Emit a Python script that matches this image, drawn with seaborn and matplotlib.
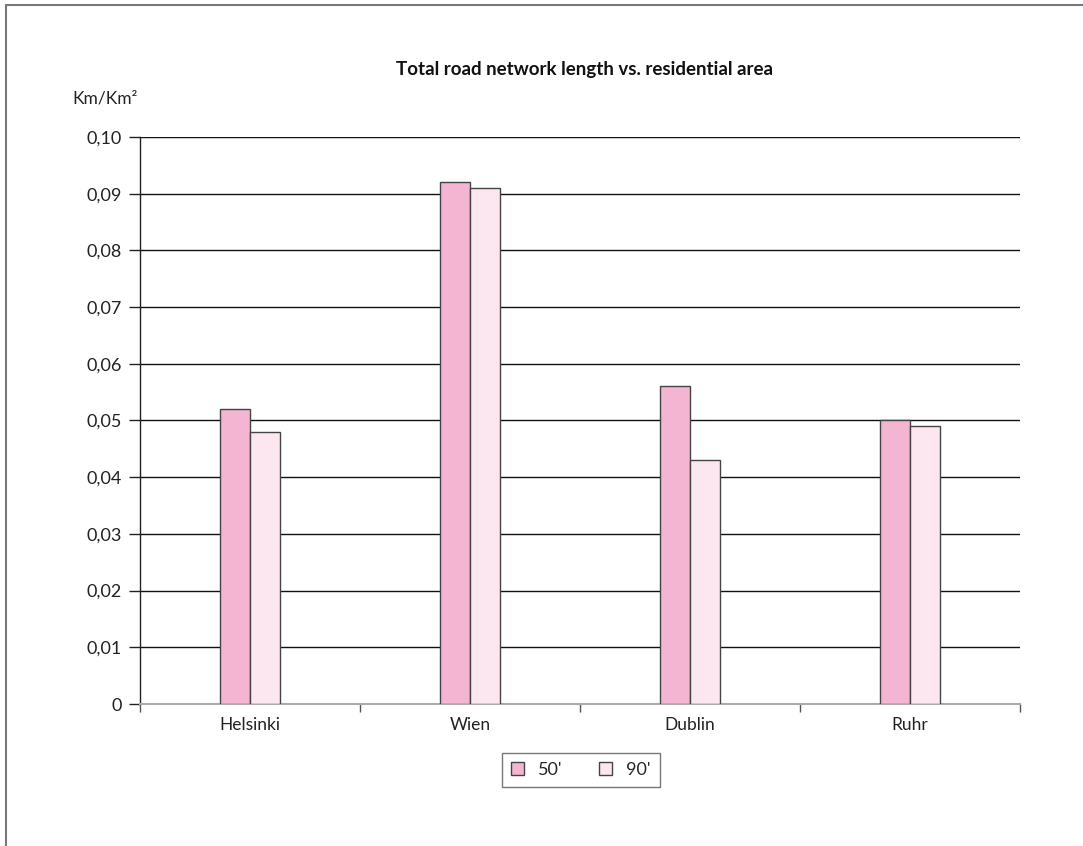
import matplotlib
matplotlib.use("Agg")
import matplotlib.pyplot as plt
import matplotlib.lines as mlines
import matplotlib.patches as mpatches
import pandas as pd
import seaborn as sns

cities = ["Helsinki", "Wien", "Dublin", "Ruhr"]
periods = ["50'", "90'"]
vals_50 = [0.052, 0.092, 0.056, 0.050]
vals_90 = [0.048, 0.091, 0.043, 0.049]
colors = ["#f4b5d3", "#fce6f0"]

df = pd.DataFrame({
    "city": cities * 2,
    "period": [periods[0]] * 4 + [periods[1]] * 4,
    "value": vals_50 + vals_90,
})

sns.set_theme(style="white")
plt.rcParams["font.family"] = ["Lato", "DejaVu Sans"]

fig = plt.figure(figsize=(10.83, 8.46), dpi=100)
ax = fig.add_axes([140 / 1083, 1 - 704 / 846, 880 / 1083, 567 / 846])

sns.barplot(data=df, x="city", y="value", hue="period", palette=colors,
            saturation=1, width=0.273, edgecolor="#444444", linewidth=1.0, ax=ax,
            legend=False, zorder=3)

ax.set_ylim(0, 0.10)
ax.set_xlim(-0.5, 3.5)
ax.set_yticks([i / 100 for i in range(11)])
ax.set_yticklabels(["0"] + [f"0,{i:02d}" for i in range(1, 11)], fontsize=13, color="#222222")
ax.yaxis.grid(True, color="#111111", linewidth=1.0, zorder=0)
ax.tick_params(axis="y", length=8, width=1, color="#222222", left=True, pad=5)

ax.set_xticks(range(4))
ax.set_xticklabels(cities, fontsize=12.5, color="#222222")
ax.set_xticks([-0.5, 0.5, 1.5, 2.5, 3.5], minor=True)
ax.tick_params(axis="x", which="major", length=0, pad=9)
ax.tick_params(axis="x", which="minor", length=6, width=1, color="#555555", bottom=True)
ax.set_xlabel("")
ax.set_ylabel("")

for s in ["top", "right"]:
    ax.spines[s].set_visible(False)
ax.spines["left"].set_color("#222222")
ax.spines["left"].set_linewidth(1.0)
ax.spines["bottom"].set_color("#aaaaaa")
ax.spines["bottom"].set_linewidth(1.5)

fig.text(585 / 1083, 1 - 70 / 846, "Total road network length vs. residential area",
         ha="center", va="center", fontsize=13.5, fontweight="bold", color="#111111")
fig.text(72 / 1083, 1 - 98 / 846, "Km/Km²", ha="left", va="center",
         fontsize=12.5, color="#222222")

handles = [mpatches.Patch(facecolor=c, edgecolor="#444444", linewidth=1.0, label=p)
           for c, p in zip(colors, periods)]
leg = fig.legend(handles=handles, loc="center", bbox_to_anchor=(581 / 1083, 1 - 770 / 846),
                 ncol=2, frameon=True, fontsize=13, handlelength=0.7, handleheight=0.7,
                 columnspacing=2.0, fancybox=False, borderpad=0.5)
leg.get_frame().set_edgecolor("#555555")
leg.get_frame().set_linewidth(1.0)

# outer frame (top and left)
fig.add_artist(mlines.Line2D([6 / 1083, 1], [1 - 5 / 846, 1 - 5 / 846],
                             transform=fig.transFigure, color="#777777", linewidth=1.5))
fig.add_artist(mlines.Line2D([6 / 1083, 6 / 1083], [0, 1 - 5 / 846],
                             transform=fig.transFigure, color="#777777", linewidth=1.5))

fig.savefig("out.png", dpi=100, facecolor="white")
